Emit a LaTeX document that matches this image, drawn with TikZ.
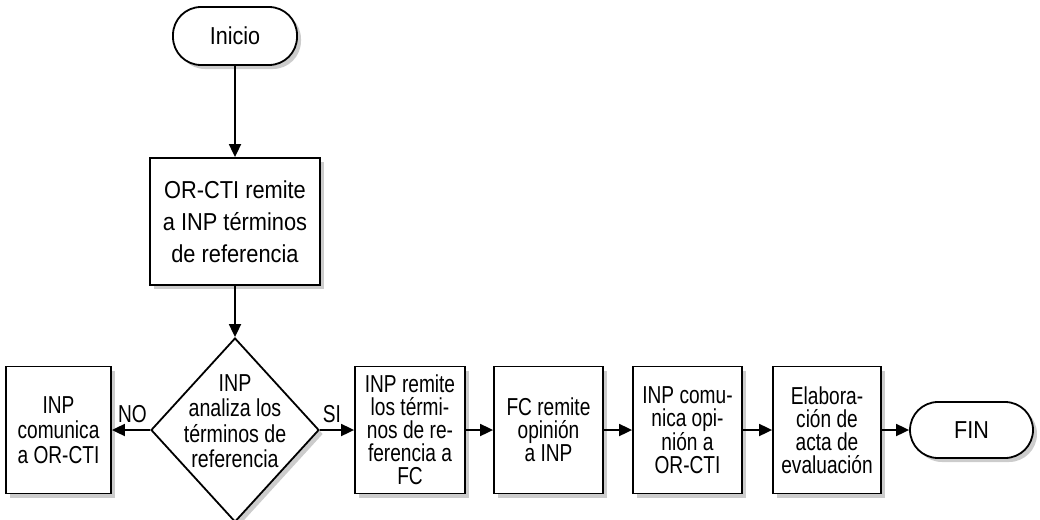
\documentclass[tikz,border=0pt]{standalone}
\usepackage{fontspec}
\newfontfamily\cond[FakeStretch=0.78]{Liberation Sans}
\newfontfamily\condd[FakeStretch=0.8]{Liberation Sans}
\newfontfamily\condw[FakeStretch=0.89]{Liberation Sans}
\newfontfamily\condt[FakeStretch=0.88]{Liberation Sans}
\usetikzlibrary{shapes.geometric,shadows,arrows.meta}
\begin{document}
\begin{tikzpicture}[x=1pt,y=-1pt,
  shad/.style={drop shadow={shadow xshift=4pt,shadow yshift=-4pt,fill=black!20,opacity=1}},
  box/.style={draw,line width=1.8pt,fill=white,shad,inner sep=0pt,minimum height=127pt,align=center,font=\cond\fontsize{24.5}{23}\selectfont},
  term/.style={draw,line width=1.8pt,fill=white,shad,rounded corners=28pt,inner sep=0pt,font=\condt\fontsize{24.5}{26}\selectfont},
  arr/.style={line width=1.8pt,-{Triangle[length=13pt,width=12pt]}},
  lbl/.style={font=\cond\fontsize{24.5}{26}\selectfont,inner sep=0pt}]
\useasboundingbox (0,0) rectangle (1040,519);
\node[term,minimum width=124pt,minimum height=58pt] (inicio) at (235,36) {Inicio};
\node[box,minimum width=170pt,font=\condw\fontsize{24.5}{32}\selectfont] (orcti) at (235,221.5) {OR-CTI remite\\a INP términos\\de referencia};
\node[draw,diamond,line width=1.8pt,fill=white,shad,inner sep=0pt,minimum width=168pt,minimum height=184pt] (dia) at (235,430) {};
\node[lbl,align=center,font=\condd\fontsize{24.5}{25.5}\selectfont] (diatext) at (235,421) {INP\\analiza los\\términos de\\referencia};
\node[box,minimum width=105pt,font=\cond\fontsize{24.5}{25}\selectfont] (left) at (58.5,430) {INP\\comunica\\a OR-CTI};
\node[box,minimum width=110pt] (b1) at (410,430) {INP remite\\los térmi-\\nos de re-\\ferencia a\\FC};
\node[box,minimum width=109pt] (b2) at (548.5,430) {FC remite\\opinión\\a INP};
\node[box,minimum width=109pt] (b3) at (687.5,430) {INP comu-\\nica opi-\\nión a\\OR-CTI};
\node[box,minimum width=108pt] (b4) at (827,430) {Elabora-\\ción de\\acta de\\evaluación};
\node[term,minimum width=123pt,minimum height=56pt] (fin) at (971.5,430) {FIN};
\node[lbl] (no) at (132.5,414) {NO};
\node[lbl] (si) at (332,414) {SI};
\draw[arr] (inicio) -- (orcti);
\draw[arr] (orcti) -- (dia);
\draw[arr] (dia) -- (left);
\draw[arr] (dia) -- (b1);
\draw[arr] (b1) -- (b2);
\draw[arr] (b2) -- (b3);
\draw[arr] (b3) -- (b4);
\draw[arr] (b4) -- (fin);
\end{tikzpicture}
\end{document}
